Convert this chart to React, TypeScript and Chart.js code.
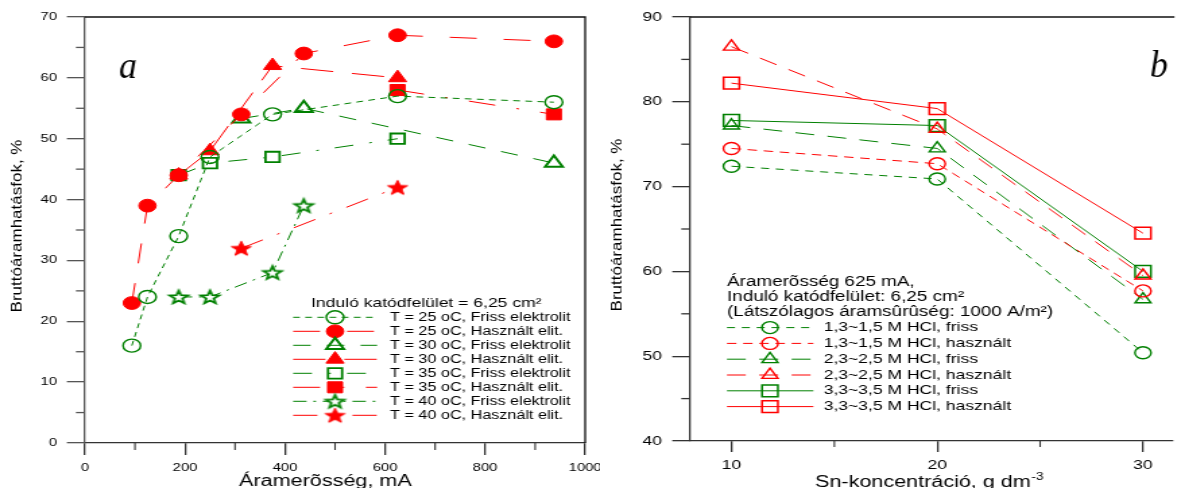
import React, { useEffect, useRef } from 'react';
import { Chart, registerables } from 'chart.js';

Chart.register(...registerables);

const FONT = '"Liberation Sans", Arial, Helvetica, sans-serif';
const SERIF = '"Liberation Serif", "Times New Roman", serif';
const GREEN = '#008000';
const RED = '#ff0000';

// ---------- Panel a data (Áramerősség, mA  vs  hatásfok, %) ----------
const currentA_T25_friss = [93.75, 125, 187.5, 250, 375, 625, 937.5];
const effA_T25_friss = [16, 24, 34, 47, 54, 57, 56];
const currentA_T25_hasznalt = [93.75, 125, 187.5, 312.5, 437.5, 625, 937.5];
const effA_T25_hasznalt = [23, 39, 44, 54, 64, 67, 66];
const currentA_T30_friss = [312.5, 437.5, 937.5];
const effA_T30_friss = [53.3, 55, 46];
const currentA_T30_hasznalt = [187.5, 250, 375, 625];
const effA_T30_hasznalt = [44, 48, 62, 60];
const currentA_T35_friss = [187.5, 250, 375, 625];
const effA_T35_friss = [44, 46, 47, 50];
const currentA_T35_hasznalt = [625, 937.5];
const effA_T35_hasznalt = [58, 54];
const currentA_T40_friss = [187.5, 250, 375, 437.5];
const effA_T40_friss = [24, 24, 28, 39];
const currentA_T40_hasznalt = [312.5, 625];
const effA_T40_hasznalt = [32, 42];

const labelsA = [
  'T = 25 oC, Friss elektrolit',
  'T = 25 oC, Használt elit.',
  'T = 30 oC, Friss elektrolit',
  'T = 30 oC, Használt elit.',
  'T = 35 oC, Friss elektrolit',
  'T = 35 oC, Használt elit.',
  'T = 40 oC, Friss elektrolit',
  'T = 40 oC, Használt elit.',
];
const legendTitleA = 'Induló katódfelület = 6,25 cm²';
const xTitleA = 'Áramerõsség, mA';
const yTitle = 'Bruttóáramhatásfok, %';
const ticksA_x = [0, 200, 400, 600, 800, 1000];
const minorA_x = [100, 300, 500, 700, 900];
const ticksA_y = [0, 10, 20, 30, 40, 50, 60, 70];
const minorA_y = [5, 15, 25, 35, 45, 55, 65];

// ---------- Panel b data (Sn-koncentráció vs hatásfok, %) ----------
const snConc = [10, 20, 30];
const effB_13_friss = [72.4, 70.9, 50.4];
const effB_13_hasznalt = [74.5, 72.7, 57.7];
const effB_23_friss = [77.2, 74.5, 56.7];
const effB_23_hasznalt = [86.5, 76.8, 59.5];
const effB_33_friss = [77.8, 77.2, 60.0];
const effB_33_hasznalt = [82.2, 79.2, 64.5];

const labelsB = [
  '1,3~1,5 M HCl, friss',
  '1,3~1,5 M HCl, használt',
  '2,3~2,5 M HCl, friss',
  '2,3~2,5 M HCl, használt',
  '3,3~3,5 M HCl, friss',
  '3,3~3,5 M HCl, használt',
];
const headingB = [
  'Áramerõsség 625 mA,',
  'Induló katódfelület: 6,25 cm²',
  '(Látszólagos áramsûrûség: 1000 A/m²)',
];
const xTitleB = 'Sn-koncentráció, g dm';
const xTitleBSup = '-3';
const ticksB_x = [10, 20, 30];
const minorB_x = [15, 25];
const ticksB_y = [40, 50, 60, 70, 80, 90];
const minorB_y = [45, 55, 65, 75, 85];

// ---------- styles ----------
type Marker = { shape: 'circle' | 'triangle' | 'rect' | 'star'; r: number; fill: string | null; stroke: string; lw: number };
type Style = { color: string; dash: number[]; marker: Marker };

const stylesA: Style[] = [
  { color: GREEN, dash: [5, 4], marker: { shape: 'circle', r: 6.5, fill: null, stroke: GREEN, lw: 1.4 } },
  { color: RED, dash: [20, 20], marker: { shape: 'circle', r: 6.4, fill: RED, stroke: RED, lw: 1 } },
  { color: GREEN, dash: [13, 12], marker: { shape: 'triangle', r: 7.5, fill: null, stroke: GREEN, lw: 2 } },
  { color: RED, dash: [24, 14], marker: { shape: 'triangle', r: 7.7, fill: RED, stroke: RED, lw: 1 } },
  { color: GREEN, dash: [14, 12, 2, 12], marker: { shape: 'rect', r: 7.4, fill: null, stroke: GREEN, lw: 1.8 } },
  { color: RED, dash: [20, 16, 2, 16], marker: { shape: 'rect', r: 7.8, fill: RED, stroke: RED, lw: 1 } },
  { color: GREEN, dash: [10, 5, 2, 5], marker: { shape: 'star', r: 7, fill: '#ffffff', stroke: GREEN, lw: 1.8 } },
  { color: RED, dash: [18, 12, 2, 12], marker: { shape: 'star', r: 7.8, fill: RED, stroke: RED, lw: 1 } },
];

const stylesB: Style[] = [
  { color: GREEN, dash: [6, 5], marker: { shape: 'circle', r: 6, fill: null, stroke: GREEN, lw: 1.4 } },
  { color: RED, dash: [7, 5], marker: { shape: 'circle', r: 6, fill: null, stroke: RED, lw: 1.4 } },
  { color: GREEN, dash: [14, 10], marker: { shape: 'triangle', r: 6.8, fill: null, stroke: GREEN, lw: 1.4 } },
  { color: RED, dash: [14, 10], marker: { shape: 'triangle', r: 6.8, fill: null, stroke: RED, lw: 1.4 } },
  { color: GREEN, dash: [], marker: { shape: 'rect', r: 8.3, fill: null, stroke: GREEN, lw: 1.5 } },
  { color: RED, dash: [], marker: { shape: 'rect', r: 8.3, fill: null, stroke: RED, lw: 1.5 } },
];

// horizontal stretch of the drawing (reference is widened)
const WA = 445;
const WB = 434;
const SX_A = 600 / WA;
const SX_B = 585 / WB;

const starCache = new Map<string, HTMLCanvasElement>();
function starCanvas(m: Marker): HTMLCanvasElement {
  const key = JSON.stringify(m);
  const hit = starCache.get(key);
  if (hit) return hit;
  const pad = m.lw + 1;
  const size = Math.ceil(2 * m.r + 2 * pad);
  const c = document.createElement('canvas');
  c.width = size;
  c.height = size;
  const ctx = c.getContext('2d')!;
  ctx.translate(size / 2, size / 2 + m.r * 0.09);
  ctx.beginPath();
  for (let i = 0; i < 10; i++) {
    const ang = -Math.PI / 2 + (i * Math.PI) / 5;
    const rr = i % 2 ? m.r * 0.42 : m.r;
    const px = Math.cos(ang) * rr;
    const py = Math.sin(ang) * rr;
    if (i === 0) ctx.moveTo(px, py);
    else ctx.lineTo(px, py);
  }
  ctx.closePath();
  if (m.fill) {
    ctx.fillStyle = m.fill;
    ctx.fill();
  }
  ctx.lineJoin = 'miter';
  ctx.lineWidth = m.lw;
  ctx.strokeStyle = m.stroke;
  ctx.stroke();
  starCache.set(key, c);
  return c;
}

function pointStyleOf(m: Marker): any {
  return m.shape === 'star' ? starCanvas(m) : m.shape;
}

function drawMarker(ctx: CanvasRenderingContext2D, m: Marker, x: number, y: number) {
  if (m.shape === 'star') {
    const img = starCanvas(m);
    ctx.drawImage(img, x - img.width / 2, y - img.height / 2);
    return;
  }
  ctx.beginPath();
  if (m.shape === 'circle') {
    ctx.arc(x, y, m.r, 0, Math.PI * 2);
  } else if (m.shape === 'triangle') {
    let rad = 0;
    ctx.moveTo(x + Math.sin(rad) * m.r, y - Math.cos(rad) * m.r);
    rad += (2 * Math.PI) / 3;
    ctx.lineTo(x + Math.sin(rad) * m.r, y - Math.cos(rad) * m.r);
    rad += (2 * Math.PI) / 3;
    ctx.lineTo(x + Math.sin(rad) * m.r, y - Math.cos(rad) * m.r);
  } else {
    const s = Math.SQRT1_2 * m.r;
    ctx.rect(x - s, y - s, 2 * s, 2 * s);
  }
  ctx.closePath();
  if (m.fill) {
    ctx.fillStyle = m.fill;
    ctx.fill();
  }
  ctx.lineWidth = m.lw;
  ctx.strokeStyle = m.stroke;
  ctx.stroke();
}

function makeDataset(xs: number[], ys: number[], st: Style, label: string) {
  return {
    label,
    data: xs.map((x, i) => ({ x, y: ys[i] })),
    borderColor: st.color,
    borderWidth: 1,
    borderDash: st.dash,
    tension: 0,
    fill: false,
    pointStyle: pointStyleOf(st.marker),
    pointRadius: st.marker.r,
    pointHoverRadius: st.marker.r,
    pointBackgroundColor: st.marker.fill ?? 'rgba(0,0,0,0)',
    pointBorderColor: st.marker.stroke,
    pointBorderWidth: st.marker.lw,
  };
}

function drawLegendRow(
  ctx: CanvasRenderingContext2D, st: Style, x0: number, x1: number, xm: number, y: number,
  text: string, tx: number, font: string,
) {
  ctx.save();
  ctx.strokeStyle = st.color;
  ctx.lineWidth = 1;
  ctx.setLineDash(st.dash);
  ctx.beginPath();
  ctx.moveTo(x0, y);
  ctx.lineTo(x1, y);
  ctx.stroke();
  ctx.setLineDash([]);
  drawMarker(ctx, st.marker, xm, y);
  ctx.fillStyle = '#000';
  ctx.font = font;
  ctx.textBaseline = 'middle';
  ctx.textAlign = 'left';
  ctx.fillText(text, tx, y);
  ctx.restore();
}

function drawMinorTicks(ctx: CanvasRenderingContext2D, chart: any, xs: number[], ys: number[], xLen: number, yLen: number, xColor: string, yColor: string) {
  const ca = chart.chartArea;
  const sx = chart.scales.x;
  const sy = chart.scales.y;
  ctx.save();
  ctx.lineWidth = 1.1;
  ctx.strokeStyle = xColor;
  for (const v of xs) {
    const px = sx.getPixelForValue(v);
    ctx.beginPath();
    ctx.moveTo(px, ca.bottom);
    ctx.lineTo(px, ca.bottom + xLen);
    ctx.stroke();
  }
  ctx.strokeStyle = yColor;
  ctx.lineWidth = 1.3;
  for (const v of ys) {
    const py = sy.getPixelForValue(v);
    ctx.beginPath();
    ctx.moveTo(ca.left - yLen, py);
    ctx.lineTo(ca.left, py);
    ctx.stroke();
  }
  ctx.restore();
}

function drawYTitle(ctx: CanvasRenderingContext2D, cx: number, cy: number) {
  ctx.save();
  ctx.translate(cx, cy);
  ctx.rotate(-Math.PI / 2);
  ctx.scale(1, 0.65);
  ctx.font = `17px ${FONT}`;
  ctx.fillStyle = '#000';
  ctx.textAlign = 'center';
  ctx.textBaseline = 'middle';
  ctx.fillText(yTitle, 0, 0);
  ctx.restore();
}

function drawPanelLetter(ctx: CanvasRenderingContext2D, letter: string, x: number, y: number) {
  ctx.save();
  ctx.translate(x, y);
  ctx.scale(0.7, 1);
  ctx.font = `italic 38px ${SERIF}`;
  ctx.fillStyle = '#000';
  ctx.textBaseline = 'alphabetic';
  ctx.textAlign = 'left';
  ctx.fillText(letter, 0, 0);
  ctx.restore();
}

const decorA = {
  id: 'decorA',
  afterDraw(chart: any) {
    const ctx: CanvasRenderingContext2D = chart.ctx;
    const ca = chart.chartArea;
    drawMinorTicks(ctx, chart, minorA_x, minorA_y, 7, 6.7, '#333', '#555');
    ctx.save();
    ctx.strokeStyle = '#111';
    ctx.lineWidth = 1.3;
    ctx.beginPath();
    ctx.moveTo(ca.left, ca.top);
    ctx.lineTo(ca.right, ca.top);
    ctx.lineTo(ca.right, ca.bottom);
    ctx.stroke();
    ctx.restore();
    // axis titles
    ctx.save();
    ctx.fillStyle = '#000';
    ctx.font = `16px ${FONT}`;
    ctx.textBaseline = 'alphabetic';
    ctx.textAlign = 'left';
    ctx.fillText(xTitleA, 177.3, 486);
    ctx.restore();
    drawYTitle(ctx, 12.6, 226);
    drawPanelLetter(ctx, 'a', 88.3, 78);
    // legend
    ctx.save();
    ctx.fillStyle = '#000';
    ctx.font = `13px ${FONT}`;
    ctx.textBaseline = 'middle';
    ctx.textAlign = 'left';
    ctx.fillText(legendTitleA, 230.7, 303);
    ctx.restore();
    const rowsY = [317.3, 331.3, 345.3, 359.3, 373.3, 387.3, 401.3, 415.3];
    stylesA.forEach((st, i) => {
      drawLegendRow(ctx, st, 217.4, 279.7, 248.5, rowsY[i], labelsA[i], 289.3, `12px ${FONT}`);
    });
  },
};

const decorB = {
  id: 'decorB',
  afterDraw(chart: any) {
    const ctx: CanvasRenderingContext2D = chart.ctx;
    const ca = chart.chartArea;
    drawMinorTicks(ctx, chart, minorB_x, minorB_y, 6, 6.7, '#333', '#333');
    ctx.save();
    ctx.strokeStyle = '#111';
    ctx.lineWidth = 1.3;
    ctx.beginPath();
    ctx.moveTo(ca.left, ca.top);
    ctx.lineTo(ca.right + 2, ca.top);
    ctx.stroke();
    ctx.restore();
    ctx.save();
    ctx.fillStyle = '#000';
    ctx.font = `16px ${FONT}`;
    ctx.textBaseline = 'alphabetic';
    ctx.textAlign = 'left';
    const x0 = 159.5;
    ctx.fillText(xTitleB, x0, 486.5);
    const w = ctx.measureText(xTitleB).width;
    ctx.font = `10px ${FONT}`;
    ctx.fillText(xTitleBSup, x0 + w + 0.5, 480);
    ctx.restore();
    drawYTitle(ctx, 12.6, 225);
    drawPanelLetter(ctx, 'b', 408, 77);
    ctx.save();
    ctx.fillStyle = '#000';
    ctx.font = `14px ${FONT}`;
    ctx.textBaseline = 'middle';
    ctx.textAlign = 'left';
    const hy = [281.7, 297, 312.3];
    headingB.forEach((t, i) => ctx.fillText(t, 94.2, hy[i]));
    ctx.restore();
    const rowsY = [327.6, 343.4, 359.2, 375, 390.8, 406.6];
    stylesB.forEach((st, i) => {
      drawLegendRow(ctx, st, 94.2, 158.3, 126.1, rowsY[i], labelsB[i], 165.9, `13px ${FONT}`);
    });
  },
};

function axisCommon(tickLen: number, color: string, fontSize: number, padding: number) {
  return {
    grid: { drawOnChartArea: false, drawTicks: true, tickLength: tickLen, color, lineWidth: 1.3 },
    border: { display: true, color, width: 1.3 },
    ticks: {
      color: '#000',
      font: { size: fontSize, family: FONT },
      padding,
      maxRotation: 0,
      minRotation: 0,
      autoSkip: false,
      callback: (v: any) => String(v),
    },
    title: { display: false },
  };
}

function configA(): any {
  const ds = [
    makeDataset(currentA_T25_friss, effA_T25_friss, stylesA[0], labelsA[0]),
    makeDataset(currentA_T25_hasznalt, effA_T25_hasznalt, stylesA[1], labelsA[1]),
    makeDataset(currentA_T30_friss, effA_T30_friss, stylesA[2], labelsA[2]),
    makeDataset(currentA_T30_hasznalt, effA_T30_hasznalt, stylesA[3], labelsA[3]),
    makeDataset(currentA_T35_friss, effA_T35_friss, stylesA[4], labelsA[4]),
    makeDataset(currentA_T35_hasznalt, effA_T35_hasznalt, stylesA[5], labelsA[5]),
    makeDataset(currentA_T40_friss, effA_T40_friss, stylesA[6], labelsA[6]),
    makeDataset(currentA_T40_hasznalt, effA_T40_hasznalt, stylesA[7], labelsA[7]),
  ];
  return {
    type: 'line',
    data: { datasets: ds },
    options: {
      responsive: false,
      maintainAspectRatio: false,
      animation: false,
      events: [],
      layout: { padding: { top: 17, right: 11, left: 0, bottom: 0 } },
      plugins: { legend: { display: false }, tooltip: { enabled: false }, title: { display: false } },
      scales: {
        x: {
          type: 'linear',
          min: 0,
          max: 1000,
          ...axisCommon(12, '#333', 11, 6.4),
          afterBuildTicks: (s: any) => { s.ticks = ticksA_x.map((v) => ({ value: v })); },
          afterFit: (s: any) => { s.height = 45; s.paddingLeft = 0; s.paddingRight = 0; },
        },
        y: {
          type: 'linear',
          min: 0,
          max: 70,
          ...axisCommon(13.4, '#555', 11, 7.3),
          afterBuildTicks: (s: any) => { s.ticks = ticksA_y.map((v) => ({ value: v })); },
          afterFit: (s: any) => { s.width = 63; s.paddingTop = 0; s.paddingBottom = 0; },
        },
      },
    },
    plugins: [decorA],
  };
}

function configB(): any {
  const ds = [
    makeDataset(snConc, effB_13_friss, stylesB[0], labelsB[0]),
    makeDataset(snConc, effB_13_hasznalt, stylesB[1], labelsB[1]),
    makeDataset(snConc, effB_23_friss, stylesB[2], labelsB[2]),
    makeDataset(snConc, effB_23_hasznalt, stylesB[3], labelsB[3]),
    makeDataset(snConc, effB_33_friss, stylesB[4], labelsB[4]),
    makeDataset(snConc, effB_33_hasznalt, stylesB[5], labelsB[5]),
  ];
  return {
    type: 'line',
    data: { datasets: ds },
    options: {
      responsive: false,
      maintainAspectRatio: false,
      animation: false,
      events: [],
      layout: { padding: { top: 17, right: 0, left: 0, bottom: 0 } },
      plugins: { legend: { display: false }, tooltip: { enabled: false }, title: { display: false } },
      scales: {
        x: {
          type: 'linear',
          min: 8,
          max: 31.4,
          ...axisCommon(11, '#333', 13, 5.7),
          afterBuildTicks: (s: any) => { s.ticks = ticksB_x.map((v) => ({ value: v })); },
          afterFit: (s: any) => { s.height = 47; s.paddingLeft = 0; s.paddingRight = 0; },
        },
        y: {
          type: 'linear',
          min: 40,
          max: 90,
          ...axisCommon(13.4, '#333', 13, 7.6),
          afterBuildTicks: (s: any) => { s.ticks = ticksB_y.map((v) => ({ value: v })); },
          afterFit: (s: any) => { s.width = 67; s.paddingTop = 0; s.paddingBottom = 0; },
        },
      },
    },
    plugins: [decorB],
  };
}

export default function App() {
  const refA = useRef<HTMLCanvasElement>(null);
  const refB = useRef<HTMLCanvasElement>(null);
  useEffect(() => {
    const a = new Chart(refA.current!, configA());
    const b = new Chart(refB.current!, configB());
    return () => {
      a.destroy();
      b.destroy();
    };
  }, []);
  return (
    <div style={{ position: 'fixed', left: 0, top: 0, width: 1185, height: 488, background: '#fff', overflow: 'hidden' }}>
      <div style={{ position: 'absolute', left: 0, top: 0, width: WA, height: 488, transform: `scaleX(${SX_A})`, transformOrigin: '0 0' }}>
        <canvas ref={refA} width={WA} height={488} style={{ display: 'block', width: WA, height: 488 }} />
      </div>
      <div style={{ position: 'absolute', left: 600, top: 0, width: WB, height: 488, transform: `scaleX(${SX_B})`, transformOrigin: '0 0' }}>
        <canvas ref={refB} width={WB} height={488} style={{ display: 'block', width: WB, height: 488 }} />
      </div>
    </div>
  );
}
